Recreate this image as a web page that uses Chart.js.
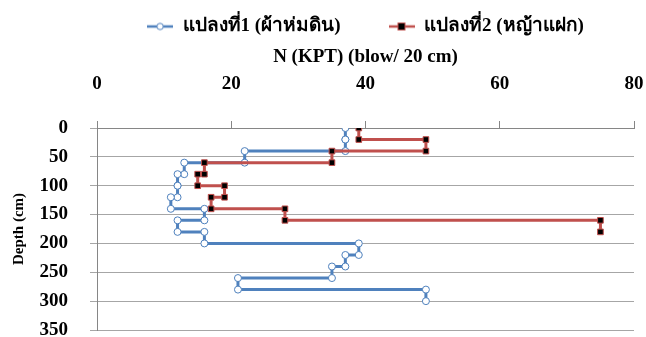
<!DOCTYPE html>
<html>
<head>
<meta charset="utf-8">
<script src="https://cdn.jsdelivr.net/npm/chart.js@4.4.1/dist/chart.umd.min.js"></script>
<style>
  html, body { margin: 0; padding: 0; background: #fff; }
  #wrap { width: 646px; height: 337px; }
</style>
</head>
<body>
<div id="wrap"><canvas id="myChart" width="646" height="337"></canvas></div>
<script>
// plot 1 and plot 2, N (KPT) per 20 cm layer, drawn as steps
const name1 = "แปลงที่1 (ผ้าห่มดิน)";
const name2 = "แปลงที่2 (หญ้าแฝก)";
const depth1 = [0,20,20,40,40,60,60,80,80,100,100,120,120,140,140,160,160,180,180,200,200,220,220,240,240,260,260,280,280,300];
const n1     = [37,37,37,37,22,22,13,13,12,12,12,12,11,11,16,16,12,12,16,16,39,39,37,37,35,35,21,21,49,49];
const depth2 = [0,20,20,40,40,60,60,80,80,100,100,120,120,140,140,160,160,180];
const n2     = [39,39,49,49,35,35,16,16,15,15,19,19,17,17,28,28,75,75];
const xTicks = [0,20,40,60,80];
const yTicks = [0,50,100,150,200,250,300,350];

const blue = '#4f81bd';
const red = '#c0504d';
const font = "'Liberation Serif', 'Times New Roman', serif";

function legendIcon(lineColor, marker){
  const c = document.createElement('canvas');
  c.width = 26; c.height = 10;
  const g = c.getContext('2d');
  g.strokeStyle = lineColor; g.lineWidth = 2.5;
  g.beginPath(); g.moveTo(0,5); g.lineTo(26,5); g.stroke();
  g.lineWidth = 1;
  if (marker === 'circle') {
    g.fillStyle = '#fff'; g.strokeStyle = lineColor;
    g.beginPath(); g.arc(13,5,3.2,0,Math.PI*2); g.fill(); g.stroke();
  } else {
    g.fillStyle = '#000'; g.strokeStyle = red;
    g.fillRect(9.5,1.5,7,7); g.strokeRect(9.5,1.5,7,7);
  }
  return c;
}
const icons = [legendIcon(blue,'circle'), legendIcon(red,'rect')];

const pts1 = depth1.map((d,i) => ({x: n1[i], y: d}));
const pts2 = depth2.map((d,i) => ({x: n2[i], y: d}));

const cxt = document.getElementById('myChart').getContext('2d');
const myChart = new Chart(cxt, {
  type: 'scatter',
  data: {
    datasets: [{
      label: name1,
      data: pts1,
      showLine: true,
      borderColor: blue,
      borderWidth: 3,
      pointStyle: 'circle',
      pointRadius: 3.5,
      pointBackgroundColor: '#fff',
      pointBorderColor: blue,
      pointBorderWidth: 1,
      order: 1
    }, {
      label: name2,
      data: pts2,
      showLine: true,
      borderColor: red,
      borderWidth: 3,
      pointStyle: 'rect',
      pointRadius: 4,
      pointBackgroundColor: '#000',
      pointBorderColor: red,
      pointBorderWidth: 1,
      order: 0
    }]
  },
  options: {
    responsive: false,
    animation: false,
    layout: { padding: { left: 8, right: 12, top: 7, bottom: 7 } },
    plugins: {
      tooltip: { enabled: false },
      legend: {
        position: 'top',
        fullSize: false,
        labels: {
          usePointStyle: true,
          pointStyleWidth: 26,
          color: '#000',
          padding: 10,
          font: { family: font, size: 19, weight: 'bold' },
          generateLabels: (chart) => chart.data.datasets.map((ds, i) => ({
            text: i === 0 ? ds.label + '\u2003\u2003' : ds.label,
            pointStyle: icons[i],
            fontColor: '#000',
            datasetIndex: i,
            hidden: false,
            lineWidth: 0
          }))
        }
      }
    },
    scales: {
      x: {
        type: 'linear',
        position: 'top',
        min: 0, max: 80,
        afterBuildTicks: (s) => { s.ticks = xTicks.map(v => ({value: v})); },
        afterFit: (s) => { s.height = 82; s.paddingLeft = 0; s.paddingRight = 0; },
        title: {
          display: true,
          text: 'N (KPT) (blow/ 20 cm)',
          color: '#000',
          font: { family: font, size: 19, weight: 'bold' },
          padding: { top: 0, bottom: 4 }
        },
        ticks: {
          color: '#000',
          padding: 26,
          autoSkip: false,
          maxRotation: 0,
          font: { family: font, size: 19, weight: 'bold' }
        },
        grid: { drawOnChartArea: false, drawTicks: true, tickLength: 7, color: '#868686' },
        border: { color: '#868686', width: 1 }
      },
      y: {
        type: 'linear',
        reverse: true,
        min: 0, max: 350,
        afterBuildTicks: (s) => { s.ticks = yTicks.map(v => ({value: v})); },
        afterFit: (s) => { s.width = 89; s.paddingTop = 0; s.paddingBottom = 0; },
        title: {
          display: true,
          text: 'Depth (cm)',
          color: '#000',
          font: { family: font, size: 15, weight: 'bold' },
          padding: { top: 2, bottom: 12 }
        },
        ticks: {
          color: '#000',
          padding: 22,
          autoSkip: false,
          font: { family: font, size: 19, weight: 'bold' }
        },
        grid: { color: '#a6a6a6', tickLength: 7 },
        border: { color: '#868686', width: 1 }
      }
    }
  }
});
</script>
</body>
</html>
